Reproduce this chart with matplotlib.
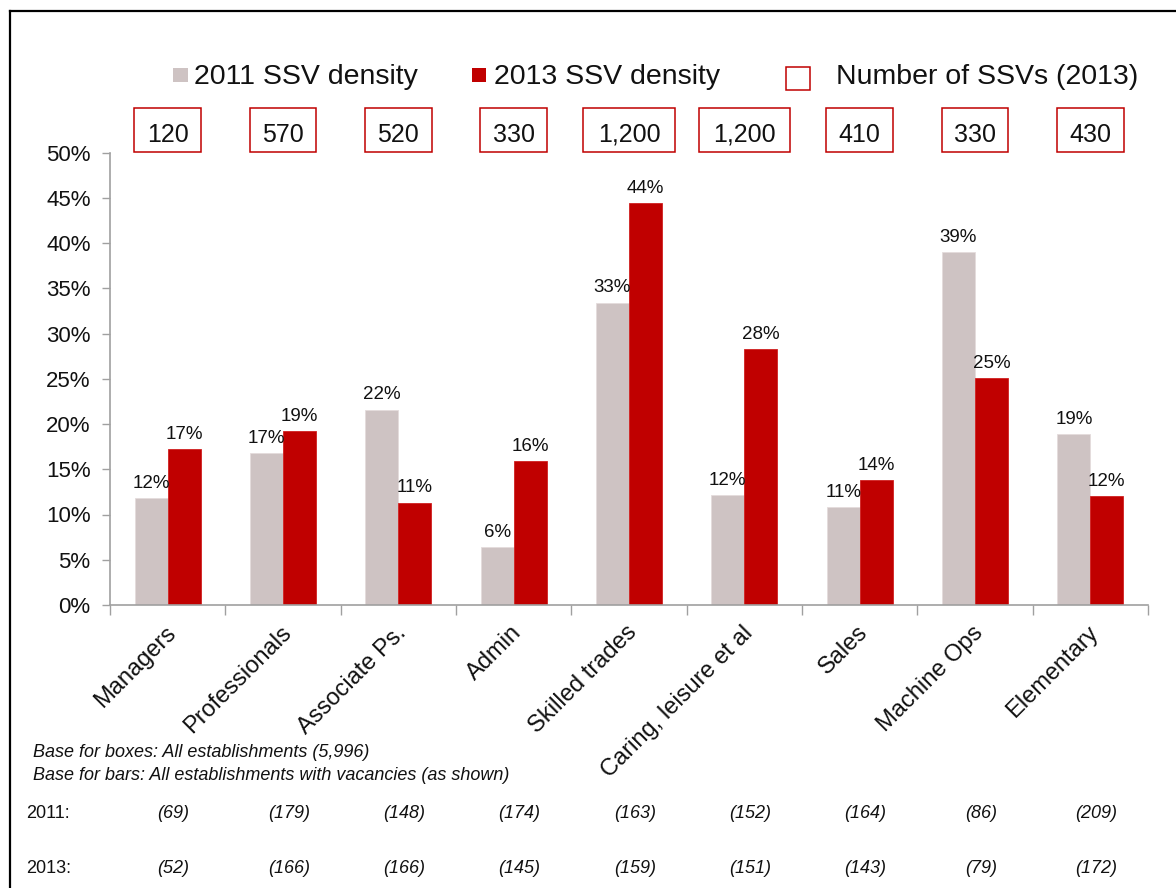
import numpy as np
import matplotlib.pyplot as plt
import matplotlib.transforms as mtransforms
from matplotlib.patches import Rectangle
from matplotlib.lines import Line2D

plt.rcParams['font.family'] = ['Liberation Sans', 'DejaVu Sans']

categories = ['Managers', 'Professionals', 'Associate Ps.', 'Admin', 'Skilled trades',
              'Caring, leisure et al', 'Sales', 'Machine Ops', 'Elementary']
density_2011 = [11.8, 16.8, 21.6, 6.4, 33.4, 12.1, 10.8, 39.0, 18.9]
density_2013 = [17.2, 19.2, 11.3, 15.9, 44.4, 28.3, 13.8, 25.1, 12.0]
labels_2011 = ['12%', '17%', '22%', '6%', '33%', '12%', '11%', '39%', '19%']
labels_2013 = ['17%', '19%', '11%', '16%', '44%', '28%', '14%', '25%', '12%']
ssv_counts = ['120', '570', '520', '330', '1,200', '1,200', '410', '330', '430']
base_2011 = ['(69)', '(179)', '(148)', '(174)', '(163)', '(152)', '(164)', '(86)', '(209)']
base_2013 = ['(52)', '(166)', '(166)', '(145)', '(159)', '(151)', '(143)', '(79)', '(172)']

c2011 = '#CEC3C3'
c2013 = '#C00000'
grey = '#A0A0A0'

W, H = 1176, 888
fig = plt.figure(figsize=(W / 100, H / 100), dpi=100)


def fx(px):
    return px / W


def fy(py):
    return 1 - py / H


ax = fig.add_axes([fx(110), fy(605), fx(1148) - fx(110), fy(152.5) - fy(605)])

x = np.arange(len(categories))
w = 0.286
b1 = ax.bar(x - w / 2, density_2011, w, color=c2011, edgecolor='#E4DCDC', linewidth=0.6)
b2 = ax.bar(x + w / 2, density_2013, w, color=c2013, edgecolor='#D02020', linewidth=0.6)

for bars, labs in [(b1, labels_2011), (b2, labels_2013)]:
    for r, lab in zip(bars, labs):
        ax.annotate(lab, (r.get_x() + r.get_width() / 2, r.get_height()),
                    xytext=(0, 4.5), textcoords='offset points',
                    ha='center', va='bottom', fontsize=13.5, color='#111111')

ax.set_xlim(-0.5, len(categories) - 0.5)
ax.set_ylim(0, 50)
ax.set_yticks(np.arange(0, 51, 5))
ax.set_yticklabels([f'{v}%' for v in range(0, 51, 5)], fontsize=16, color='#111111')

# tick marks between the groups, labels at the centres
ax.set_xticks(np.arange(-0.5, len(categories)), [''] * (len(categories) + 1))
ax.set_xticks(x, categories, minor=True, rotation=45, ha='right',
              rotation_mode='anchor', fontsize=17, color='#111111')
ax.tick_params(axis='x', which='major', length=7, width=1, color=grey)
ax.tick_params(axis='x', which='minor', length=0, pad=12)
ax.tick_params(axis='y', length=6, width=1, color=grey, pad=8)
shift = mtransforms.ScaledTranslation(-3 / 100, 0, fig.dpi_scale_trans)
for lab in ax.get_xticklabels(minor=True):
    lab.set_transform(lab.get_transform() + shift)

for s in ['top', 'right']:
    ax.spines[s].set_visible(False)
for s in ['left', 'bottom']:
    ax.spines[s].set_color(grey)
    ax.spines[s].set_linewidth(1.2)

# boxes with number of SSVs
blend = mtransforms.blended_transform_factory(ax.transData, fig.transFigure)
for xi, txt in zip(x, ssv_counts):
    bw = 0.58 + 0.105 * (len(txt) - 3)
    fig.add_artist(Rectangle((xi - bw / 2, fy(152)), bw, 44 / H, transform=blend,
                             facecolor='white', edgecolor=c2013, linewidth=1.1))
    fig.text(xi, fy(141.5), txt, transform=blend, ha='center', va='baseline',
             fontsize=18, color='#111111')

# legend
fig.add_artist(Rectangle((fx(173), fy(82.5)), 14.5 / W, 14.5 / H, transform=fig.transFigure,
                         facecolor=c2011, edgecolor='none'))
fig.text(fx(193.5), fy(83.5), '2011 SSV density', fontsize=20.5, va='baseline', color='#111111')
fig.add_artist(Rectangle((fx(472), fy(82.5)), 14.5 / W, 14.5 / H, transform=fig.transFigure,
                         facecolor=c2013, edgecolor='none'))
fig.text(fx(493.5), fy(83.5), '2013 SSV density', fontsize=20.5, va='baseline', color='#111111')
fig.add_artist(Rectangle((fx(786), fy(90)), 24 / W, 23 / H, transform=fig.transFigure,
                         facecolor='white', edgecolor=c2013, linewidth=1.1))
fig.text(fx(836), fy(83.5), 'Number of SSVs (2013)', fontsize=20.5, va='baseline', color='#111111')

# base notes
fig.text(fx(33), fy(752), 'Base for boxes: All establishments (5,996)', fontsize=13,
         style='italic', va='center', color='#111111')
fig.text(fx(33), fy(775), 'Base for bars: All establishments with vacancies (as shown)',
         fontsize=13, style='italic', va='center', color='#111111')
fig.text(fx(26), fy(813), '2011:', fontsize=13, va='center', color='#111111')
fig.text(fx(26), fy(868), '2013:', fontsize=13, va='center', color='#111111')
for xi, a, b in zip(x, base_2011, base_2013):
    fig.text(xi + 0.05, fy(813), a, transform=blend, ha='center', va='center',
             fontsize=13, style='italic', color='#111111')
    fig.text(xi + 0.05, fy(868), b, transform=blend, ha='center', va='center',
             fontsize=13, style='italic', color='#111111')

# outer frame (left and top edges visible)
fig.add_artist(Line2D([fx(10), fx(10)], [0, fy(11)], transform=fig.transFigure,
                      color='black', linewidth=1.6))
fig.add_artist(Line2D([fx(10), 1], [fy(11), fy(11)], transform=fig.transFigure,
                      color='black', linewidth=1.6))

fig.savefig('out.png', dpi=100)
